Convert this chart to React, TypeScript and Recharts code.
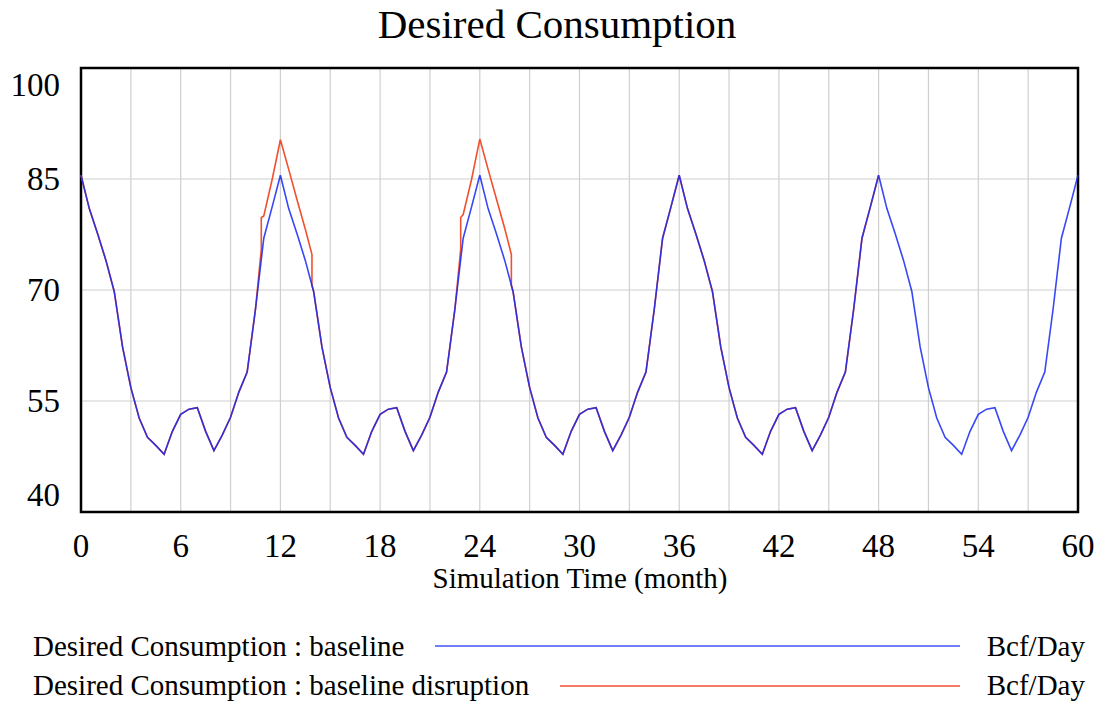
import { LineChart, Line, XAxis, YAxis, CartesianGrid, ReferenceArea } from "recharts";

const FONT = '"Liberation Serif", "Times New Roman", serif';
const BLUE = "#1428f5";
const RED = "#f0502e";

// Desired Consumption, baseline run, every half month (0 .. 60)
const baseline = [
  85.5, 81.0, 77.6, 74.0, 69.8, 62.3, 56.8, 52.7, 50.1, 49.0, 47.8, 50.9,
  53.2, 53.9, 54.1, 50.9, 48.3, 50.4, 52.8, 56.2, 58.9, 67.4, 77.0, 81.2,
  85.5, 81.0, 77.6, 74.0, 69.8, 62.3, 56.8, 52.7, 50.1, 49.0, 47.8, 50.9,
  53.2, 53.9, 54.1, 50.9, 48.3, 50.4, 52.8, 56.2, 58.9, 67.4, 77.0, 81.2,
  85.5, 81.0, 77.6, 74.0, 69.8, 62.3, 56.8, 52.7, 50.1, 49.0, 47.8, 50.9,
  53.2, 53.9, 54.1, 50.9, 48.3, 50.4, 52.8, 56.2, 58.9, 67.4, 77.0, 81.2,
  85.5, 81.0, 77.6, 74.0, 69.8, 62.3, 56.8, 52.7, 50.1, 49.0, 47.8, 50.9,
  53.2, 53.9, 54.1, 50.9, 48.3, 50.4, 52.8, 56.2, 58.9, 67.4, 77.0, 81.2,
  85.5, 81.0, 77.6, 74.0, 69.8, 62.3, 56.8, 52.7, 50.1, 49.0, 47.8, 50.9,
  53.2, 53.9, 54.1, 50.9, 48.3, 50.4, 52.8, 56.2, 58.9, 67.4, 77.0, 81.2,
  85.5,
];
const months = baseline.map((_, i) => i / 2);

// "baseline disruption" run: differs from baseline around the 12 and 24 month peaks,
// and the run stops at month 48 (last year is baseline only)
const disruptionEnd = 48;
const disruption1Months = [10.85, 10.85, 11, 11.5, 12, 12.5, 13, 13.5, 13.9, 13.9];
const disruption1Values = [75.5, 79.8, 80.0, 84.9, 90.3, 86.3, 82.2, 78.2, 74.8, 70.6];
const disruption2Months = [22.85, 22.85, 23, 23.5, 24, 24.5, 25, 25.5, 25.9, 25.9];
const disruption2Values = [75.5, 79.8, 80.2, 84.9, 90.4, 86.3, 82.3, 78.3, 74.8, 70.6];

const xTicks = [0, 3, 6, 9, 12, 15, 18, 21, 24, 27, 30, 33, 36, 39, 42, 45, 48, 51, 54, 57, 60];
const yTicks = [40, 55, 70, 85, 100];

const baseData = months.map((m, i) => ({ m, v: baseline[i] }));
const windows: [number[], number[]][] = [
  [disruption1Months, disruption1Values],
  [disruption2Months, disruption2Values],
];
const inWindow = (m: number) => windows.some(([ms]) => m >= ms[0] && m <= ms[ms.length - 1]);
const redData = [
  ...baseData.filter((p) => !inWindow(p.m) && p.m <= disruptionEnd),
  ...windows.flatMap(([ms, vs]) => ms.map((m, i) => ({ m, v: vs[i] }))),
].sort((a, b) => a.m - b.m);

const XTick = ({ x, y, payload }: any) =>
  payload.value % 6 === 0 ? (
    <text x={x} y={y + 37} textAnchor="middle" fontFamily={FONT} fontSize={33} fill="#000">
      {payload.value}
    </text>
  ) : null;

// Vensim keeps the end labels inside the frame
const YTick = ({ y, payload }: any) => {
  const shift = payload.value === 100 ? 17 : payload.value === 40 ? -17 : 0;
  return (
    <text x={60} y={y + shift + 11} textAnchor="end" fontFamily={FONT} fontSize={33} fill="#000">
      {payload.value}
    </text>
  );
};

export default function App() {
  return (
    <div style={{ position: "absolute", left: 0, top: 0, width: 1102, height: 704, background: "#fff" }}>
      <LineChart width={1102} height={704} margin={{ top: 68, right: 24, bottom: 132, left: 0 }}>
        <CartesianGrid stroke="#cfcfcf" strokeWidth={1.2} />
        <XAxis
          dataKey="m"
          type="number"
          domain={[0, 60]}
          ticks={xTicks}
          interval={0}
          height={60}
          axisLine={false}
          tickLine={false}
          tick={<XTick />}
        />
        <YAxis
          type="number"
          domain={[40, 100]}
          ticks={yTicks}
          interval={0}
          width={81}
          axisLine={false}
          tickLine={false}
          tick={<YTick />}
        />
        <Line data={redData} dataKey="v" stroke={RED} strokeWidth={1.6} dot={false} isAnimationActive={false} />
        {/* drawn over the red run, slightly see-through so the overlap reads purple like Vensim */}
        <Line
          data={baseData}
          dataKey="v"
          stroke={BLUE}
          strokeOpacity={0.85}
          strokeWidth={1.6}
          dot={false}
          isAnimationActive={false}
        />
        <ReferenceArea x1={0} x2={60} y1={40} y2={100} fill="none" stroke="#000" strokeWidth={2.5} />
      </LineChart>
      <svg width={1102} height={704} style={{ position: "absolute", left: 0, top: 0, pointerEvents: "none" }}>
        <g fontFamily={FONT} fill="#000">
          <text x={557} y={38} fontSize={41} textAnchor="middle">Desired Consumption</text>
          <text x={580} y={588} fontSize={29} textAnchor="middle">Simulation Time (month)</text>
          <text x={33} y={656} fontSize={29}>Desired Consumption : baseline</text>
          <text x={1085} y={656} fontSize={29} textAnchor="end">Bcf/Day</text>
          <text x={33} y={695} fontSize={29}>Desired Consumption : baseline disruption</text>
          <text x={1085} y={695} fontSize={29} textAnchor="end">Bcf/Day</text>
        </g>
        <line x1={435} x2={960} y1={646} y2={646} stroke={BLUE} strokeOpacity={0.8} strokeWidth={1.6} />
        <line x1={560} x2={960} y1={686} y2={686} stroke={RED} strokeWidth={1.6} />
      </svg>
    </div>
  );
}
